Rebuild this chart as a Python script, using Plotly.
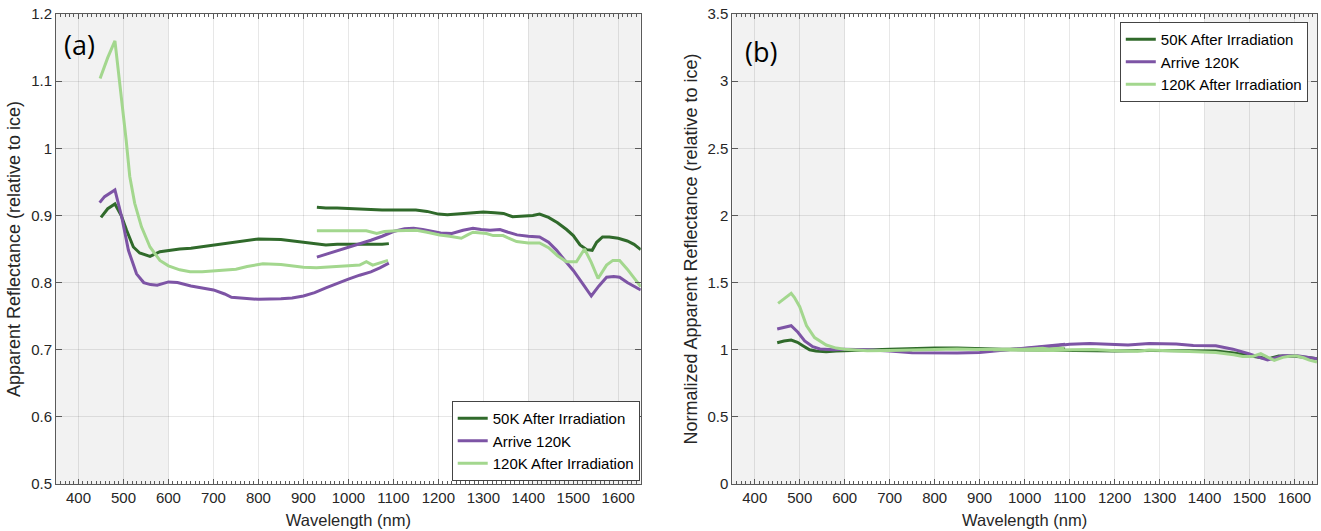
import plotly.graph_objects as go

# ---------------- Panel (a): Apparent reflectance ----------------
series_names = ["50K After Irradiation", "Arrive 120K", "120K After Irradiation"]
series_colors = ["#306a2b", "#7d54a5", "#a3d78e"]

# 50K After Irradiation, visible segment
a_50k_vis_x = [450, 465, 481, 495, 507, 515, 522, 536, 559, 581, 600, 625, 650, 700, 750, 800,
               850, 875, 900, 925, 950, 975, 1000, 1025, 1050, 1075, 1090]
a_50k_vis_y = [0.897, 0.910, 0.917, 0.900, 0.878, 0.864, 0.853, 0.844, 0.839, 0.846, 0.848, 0.850,
               0.851, 0.856, 0.860, 0.865, 0.864, 0.862, 0.859, 0.857, 0.856, 0.857, 0.857, 0.856,
               0.857, 0.857, 0.858]
# 50K After Irradiation, NIR segment
a_50k_nir_x = [930, 950, 975, 1000, 1025, 1050, 1075, 1100, 1125, 1150, 1175, 1200, 1220, 1240,
               1260, 1280, 1300, 1325, 1345, 1365, 1390, 1410, 1425, 1445, 1465, 1485, 1500, 1515,
               1530, 1542, 1552, 1565, 1580, 1600, 1620, 1635, 1650]
a_50k_nir_y = [0.912, 0.911, 0.911, 0.910, 0.909, 0.908, 0.908, 0.908, 0.908, 0.908, 0.906, 0.902,
               0.901, 0.902, 0.904, 0.905, 0.905, 0.904, 0.903, 0.898, 0.899, 0.900, 0.902, 0.897,
               0.889, 0.879, 0.870, 0.856, 0.849, 0.848, 0.860, 0.868, 0.868, 0.866, 0.862, 0.857,
               0.849]

# Arrive 120K
a_arr_vis_x = [447, 458, 481, 496, 511, 529, 545, 560, 575, 600, 620, 650, 700, 725, 740, 775, 800,
               850, 875, 900, 925, 950, 975, 1000, 1025, 1050, 1070, 1090]
a_arr_vis_y = [0.919, 0.928, 0.938, 0.898, 0.848, 0.813, 0.800, 0.797, 0.796, 0.801, 0.800, 0.795,
               0.789, 0.783, 0.778, 0.776, 0.775, 0.776, 0.777, 0.780, 0.785, 0.792, 0.799, 0.805,
               0.811, 0.816, 0.822, 0.829]
a_arr_nir_x = [930, 950, 975, 1000, 1025, 1050, 1075, 1100, 1125, 1145, 1165, 1185, 1205, 1230,
               1255, 1277, 1295, 1315, 1337, 1355, 1375, 1400, 1425, 1445, 1463, 1480, 1500, 1520,
               1540, 1557, 1574, 1590, 1603, 1620, 1635, 1650]
a_arr_nir_y = [0.838, 0.842, 0.847, 0.852, 0.857, 0.863, 0.869, 0.876, 0.880, 0.881, 0.879, 0.876,
               0.874, 0.873, 0.878, 0.881, 0.879, 0.878, 0.879, 0.875, 0.871, 0.869, 0.868, 0.860,
               0.848, 0.834, 0.818, 0.799, 0.780, 0.795, 0.808, 0.809, 0.808, 0.800, 0.794, 0.789]

# 120K After Irradiation
a_120_vis_x = [448, 465, 481, 488, 496, 506, 514, 525, 540, 559, 581, 600, 625, 648, 675, 700, 721,
               750, 775, 810, 850, 875, 900, 929, 966, 1000, 1025, 1040, 1054, 1070, 1088]
a_120_vis_y = [1.104, 1.135, 1.160, 1.121, 1.072, 1.012, 0.958, 0.918, 0.883, 0.853, 0.833, 0.825,
               0.819, 0.816, 0.816, 0.817, 0.818, 0.820, 0.824, 0.828, 0.827, 0.825, 0.823, 0.822,
               0.824, 0.825, 0.826, 0.831, 0.826, 0.829, 0.833]
a_120_nir_x = [930, 950, 975, 1000, 1020, 1040, 1063, 1080, 1107, 1130, 1151, 1175, 1203, 1225,
               1251, 1265, 1277, 1295, 1307, 1322, 1344, 1360, 1374, 1400, 1425, 1445, 1465, 1485,
               1507, 1525, 1540, 1555, 1574, 1588, 1603, 1620, 1633, 1650]
a_120_nir_y = [0.877, 0.877, 0.877, 0.876, 0.877, 0.877, 0.873, 0.876, 0.877, 0.878, 0.878, 0.875,
               0.871, 0.869, 0.866, 0.871, 0.875, 0.874, 0.873, 0.870, 0.870, 0.865, 0.861, 0.859,
               0.859, 0.852, 0.840, 0.831, 0.831, 0.850, 0.830, 0.806, 0.826, 0.833, 0.833, 0.820,
               0.808, 0.794]

# ---------------- Panel (b): Normalized reflectance ----------------
b_50k_vis_x = [450, 465, 481, 495, 507, 522, 536, 559, 581, 600, 650, 700, 750, 800, 850, 900, 950,
               1000, 1050, 1090]
b_50k_vis_y = [1.052, 1.065, 1.072, 1.055, 1.030, 1.000, 0.990, 0.984, 0.990, 0.993, 0.997, 1.003,
               1.008, 1.013, 1.012, 1.006, 1.003, 1.004, 1.003, 1.005]
b_50k_nir_x = [930, 1000, 1100, 1200, 1280, 1350, 1400, 1425, 1465, 1500, 1530, 1542, 1565, 1600,
               1635, 1650]
b_50k_nir_y = [1.002, 0.999, 0.997, 0.991, 0.994, 0.993, 0.988, 0.990, 0.975, 0.956, 0.935, 0.932,
               0.954, 0.951, 0.941, 0.932]

b_arr_vis_x = [450, 465, 481, 496, 511, 529, 545, 575, 600, 650, 700, 750, 800, 850, 900, 950, 1000,
               1050, 1090]
b_arr_vis_y = [1.154, 1.168, 1.179, 1.130, 1.066, 1.022, 1.005, 1.000, 1.004, 0.999, 0.991, 0.977,
               0.974, 0.975, 0.980, 0.995, 1.011, 1.025, 1.041]
b_arr_nir_x = [930, 975, 1000, 1050, 1100, 1145, 1205, 1230, 1277, 1337, 1375, 1425, 1463, 1500,
               1540, 1557, 1574, 1603, 1635, 1650]
b_arr_nir_y = [0.995, 1.003, 1.009, 1.022, 1.040, 1.046, 1.037, 1.036, 1.046, 1.043, 1.032, 1.030,
               1.004, 0.968, 0.923, 0.940, 0.955, 0.957, 0.940, 0.933]

b_120_vis_x = [452, 465, 481, 488, 500, 515, 533, 559, 581, 600, 625, 650, 700, 750, 810, 850, 900,
               950, 1000, 1040, 1054, 1088]
b_120_vis_y = [1.345, 1.380, 1.420, 1.390, 1.320, 1.180, 1.090, 1.035, 1.012, 1.003, 0.996, 0.993,
               0.995, 0.998, 1.007, 1.006, 1.002, 1.001, 1.004, 1.011, 1.005, 1.013]
b_120_nir_x = [930, 1000, 1063, 1107, 1151, 1203, 1251, 1277, 1322, 1374, 1425, 1465, 1485, 1507,
               1525, 1540, 1555, 1574, 1588, 1603, 1620, 1633, 1650]
b_120_nir_y = [1.000, 0.999, 0.995, 1.000, 1.001, 0.993, 0.988, 0.998, 0.992, 0.983, 0.980, 0.962,
               0.950, 0.950, 0.971, 0.945, 0.921, 0.943, 0.952, 0.955, 0.940, 0.922, 0.908]

# shaded wavelength bands
shade_bands = [(350, 600), (1400, 1650)]

x_range = [350, 1650]
a_y_range = [0.5, 1.2]
b_y_range = [0, 3.5]

FONT = "Liberation Sans, Arial, sans-serif"
TXT = "#262626"
AXC = "#5a5a5a"
GRID = "rgba(38,38,38,0.11)"

fig = go.Figure()

panel_a = [(a_50k_vis_x, a_50k_vis_y, a_50k_nir_x, a_50k_nir_y),
           (a_arr_vis_x, a_arr_vis_y, a_arr_nir_x, a_arr_nir_y),
           (a_120_vis_x, a_120_vis_y, a_120_nir_x, a_120_nir_y)]
panel_b = [(b_50k_vis_x, b_50k_vis_y, b_50k_nir_x, b_50k_nir_y),
           (b_arr_vis_x, b_arr_vis_y, b_arr_nir_x, b_arr_nir_y),
           (b_120_vis_x, b_120_vis_y, b_120_nir_x, b_120_nir_y)]

for panel, (xa, ya, leg) in [(panel_a, ("x", "y", "legend")), (panel_b, ("x2", "y2", "legend2"))]:
    for i, (vx, vy, nx, ny) in enumerate(panel):
        for j, (sx, sy) in enumerate([(vx, vy), (nx, ny)]):
            fig.add_trace(go.Scatter(
                x=sx, y=sy, mode="lines", name=series_names[i],
                line=dict(color=series_colors[i], width=3),
                xaxis=xa, yaxis=ya, legend=leg,
                legendgroup=f"{leg}_{i}", showlegend=(j == 0),
            ))

shapes = []
for xr, yr, (lo, hi) in [(x, y, b) for x, y in [("x", "y"), ("x2", "y2")] for b in shade_bands]:
    shapes.append(dict(type="rect", xref=xr, yref=yr, x0=lo, x1=hi,
                       y0=(a_y_range if yr == "y" else b_y_range)[0],
                       y1=(a_y_range if yr == "y" else b_y_range)[1],
                       fillcolor="#f2f2f2", line=dict(width=0), layer="below"))

def xaxis_style(domain, anchor):
    return dict(domain=domain, anchor=anchor, range=x_range, dtick=100, tick0=0,
                showline=True, linecolor=AXC, linewidth=1, mirror="ticks",
                ticks="inside", ticklen=5, tickcolor=AXC,
                minor=dict(ticks="inside", ticklen=3, dtick=10, tickcolor=AXC, showgrid=False),
                showgrid=True, gridcolor=GRID, gridwidth=1, zeroline=False,
                tickfont=dict(family=FONT, size=15, color=TXT),
                title=dict(text="Wavelength (nm)", font=dict(family=FONT, size=16.5, color=TXT),
                           standoff=9))

def yaxis_style(rng, dtick, anchor, title):
    return dict(domain=[0, 1], anchor=anchor, range=rng, dtick=dtick,
                showline=True, linecolor=AXC, linewidth=1, mirror="ticks",
                ticks="inside", ticklen=6, tickcolor=AXC,
                showgrid=True, gridcolor=GRID, gridwidth=1, zeroline=False,
                tickfont=dict(family=FONT, size=15, color=TXT),
                title=dict(text=title, font=dict(family=FONT, size=18, color=TXT), standoff=5))

fig.update_layout(
    width=1321, height=531,
    margin=dict(l=56, r=3.5, t=14, b=47),
    paper_bgcolor="white", plot_bgcolor="white",
    font=dict(family=FONT, color=TXT),
    xaxis=xaxis_style([0, 0.46373], "y"),
    xaxis2=xaxis_style([0.53627, 1], "y2"),
    yaxis=yaxis_style(a_y_range, 0.1, "x", "Apparent Reflectance (relative to ice)"),
    yaxis2=yaxis_style(b_y_range, 0.5, "x2", "Normalized Apparent Reflectance (relative to ice)"),
    shapes=shapes,
    legend=dict(x=0.4629, y=0.0064, xanchor="right", yanchor="bottom",
                bgcolor="white", bordercolor="#444", borderwidth=1,
                font=dict(family=FONT, size=15, color="black"), tracegroupgap=0),
    legend2=dict(x=0.9927, y=0.983, xanchor="right", yanchor="top",
                 bgcolor="white", bordercolor="#444", borderwidth=1,
                 font=dict(family=FONT, size=15, color="black"), tracegroupgap=0),
    annotations=[
        dict(text="(a)", xref="x", yref="y", x=363, y=1.154, xanchor="left", yanchor="middle",
             showarrow=False, font=dict(family="Open Sans, sans-serif", size=27, color="black")),
        dict(text="(b)", xref="x2", yref="y2", x=373, y=3.22, xanchor="left", yanchor="middle",
             showarrow=False, font=dict(family="Open Sans, sans-serif", size=27, color="black")),
    ],
)

fig.write_html("out.html")
